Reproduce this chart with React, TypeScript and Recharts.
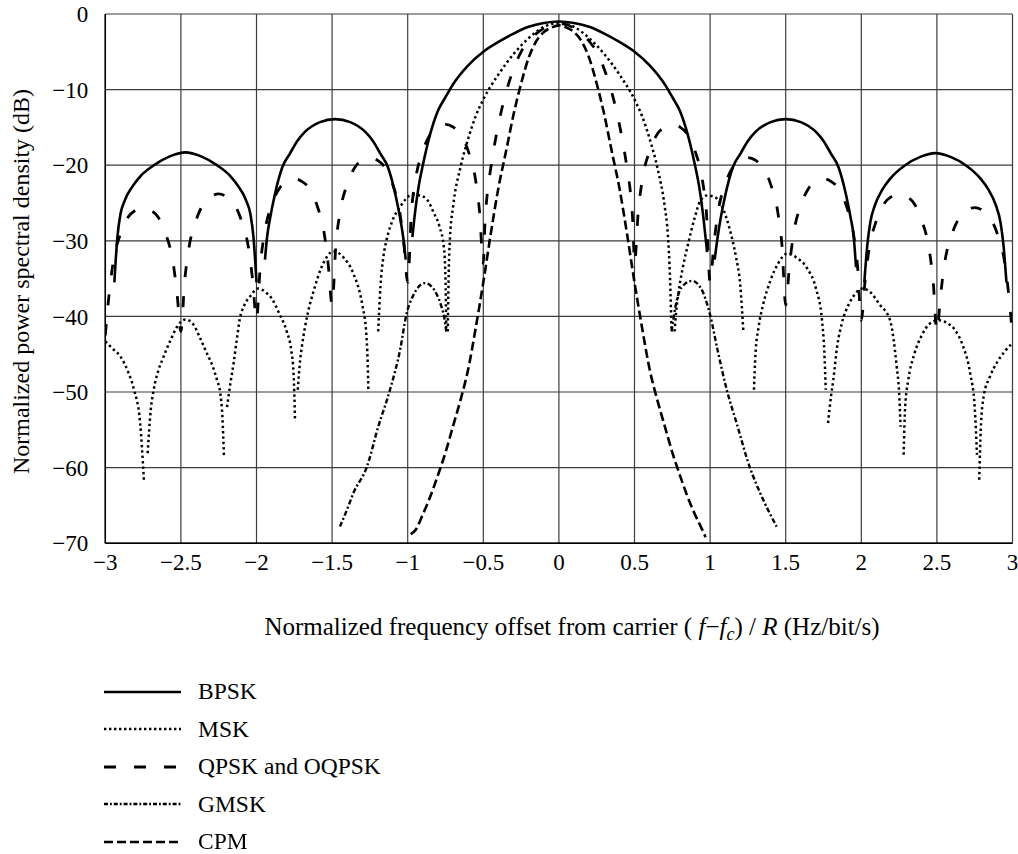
import { CartesianGrid, Label, Legend, Line, LineChart, XAxis, YAxis } from "recharts";

type Pt = [number, number | null];

const FONT = "'Liberation Serif', 'Times New Roman', Times, serif";

const xTicks = [-3, -2.5, -2, -1.5, -1, -0.5, 0, 0.5, 1, 1.5, 2, 2.5, 3];
const yTicks = [-70, -60, -50, -40, -30, -20, -10, 0];

// null = the curve is broken there
const BPSK: Pt[] = [
  [-2.94, -35.5], [-2.92, -29.5], [-2.9, -26.5], [-2.87, -24.6], [-2.82, -22.8], [-2.77, -21.5],
  [-2.67, -19.9], [-2.57, -18.8], [-2.47, -18.3], [-2.37, -18.8], [-2.27, -19.9], [-2.17, -21.5],
  [-2.12, -22.8], [-2.07, -24.6], [-2.04, -26.5], [-2.02, -29.5], [-2.0, -35.5],
  [-1.97, null],
  [-1.944, -32.5], [-1.93, -29.5], [-1.91, -27], [-1.88, -24], [-1.83, -20.3], [-1.78, -18.5],
  [-1.73, -16.8], [-1.68, -15.6], [-1.58, -14.3], [-1.48, -13.9], [-1.38, -14.3], [-1.28, -15.6],
  [-1.23, -16.8], [-1.18, -18.5], [-1.13, -20.3], [-1.08, -24], [-1.05, -27], [-1.03, -29.5], [-1.013, -32.5],
  [-0.99, null],
  [-0.969, -29.5], [-0.95, -26], [-0.925, -22.5], [-0.9, -20], [-0.85, -15.8], [-0.8, -12.8],
  [-0.75, -11.0], [-0.7, -9.3], [-0.6, -6.8], [-0.5, -5.0], [-0.4, -3.7], [-0.3, -2.6], [-0.2, -1.7],
  [-0.1, -1.2], [0, -1.0], [0.1, -1.2], [0.2, -1.7], [0.3, -2.6], [0.4, -3.7], [0.5, -5.0], [0.6, -6.8],
  [0.7, -9.3], [0.75, -11.0], [0.8, -12.8], [0.85, -15.8], [0.9, -20], [0.925, -22.5], [0.95, -26], [0.98, -31.5],
  [1.0, null],
  [1.03, -32.5], [1.05, -29.5], [1.07, -27], [1.1, -24], [1.15, -20.3], [1.2, -18.5], [1.25, -16.8],
  [1.3, -15.6], [1.4, -14.3], [1.5, -13.9], [1.6, -14.3], [1.7, -15.6], [1.75, -16.8], [1.8, -18.5],
  [1.85, -20.3], [1.9, -24], [1.93, -27], [1.95, -29.5], [1.965, -33.5],
  [1.99, null],
  [2.02, -35.5], [2.04, -30.5], [2.06, -27.5], [2.09, -25.3], [2.14, -23.2], [2.19, -21.8], [2.29, -20.0],
  [2.39, -18.9], [2.49, -18.4], [2.59, -18.9], [2.69, -20.0], [2.79, -21.8], [2.84, -23.2], [2.89, -25.3],
  [2.92, -27.5], [2.94, -30.5], [2.96, -35.5],
];

const MSK: Pt[] = [
  [-3, -43.3], [-2.95, -44.3], [-2.9, -45.3], [-2.85, -47.3], [-2.81, -49.7], [-2.77, -54], [-2.745, -61.6],
  [-2.73, null],
  [-2.72, -58.1], [-2.7, -52.5], [-2.68, -49.7], [-2.65, -47.2], [-2.62, -45.6], [-2.57, -43.2], [-2.52, -41.2],
  [-2.47, -40.4], [-2.42, -41.0], [-2.37, -43.0], [-2.33, -44.8], [-2.29, -46.6], [-2.26, -48.5], [-2.24, -50.1],
  [-2.225, -53.5], [-2.215, -58.6],
  [-2.205, null],
  [-2.195, -52], [-2.17, -48.5], [-2.15, -46], [-2.13, -43], [-2.11, -40.3], [-2.08, -38.5], [-2.04, -37.3],
  [-1.99, -36.3], [-1.94, -36.8], [-1.9, -37.6], [-1.85, -39.6], [-1.8, -42], [-1.77, -44.5], [-1.755, -47.5], [-1.745, -53.9],
  [-1.736, null],
  [-1.727, -49.7], [-1.71, -45.5], [-1.7, -44], [-1.66, -39.5], [-1.62, -36.5], [-1.57, -33.5], [-1.49, -31.4],
  [-1.42, -32.3], [-1.36, -34.3], [-1.3, -38.5], [-1.275, -42], [-1.265, -46], [-1.26, -50],
  [-1.23, null],
  [-1.195, -42], [-1.18, -36], [-1.16, -32], [-1.14, -29.9], [-1.1, -27.3], [-1.05, -25.5], [-0.97, -23.9],
  [-0.92, -24], [-0.87, -24.6], [-0.83, -26.2], [-0.79, -28.1], [-0.76, -31], [-0.75, -35], [-0.745, -42],
  [-0.74, null],
  [-0.735, -42], [-0.73, -35.5], [-0.72, -29.5], [-0.7, -25.5], [-0.65, -20.2], [-0.6, -16.5], [-0.55, -13.5],
  [-0.5, -11.3], [-0.4, -8.0], [-0.3, -5.3], [-0.2, -3.2], [-0.1, -1.7], [0, -1.2], [0.1, -1.7], [0.2, -3.2],
  [0.3, -5.3], [0.4, -8.0], [0.5, -11.3], [0.55, -13.5], [0.6, -16.5], [0.65, -20.2], [0.7, -25.5], [0.72, -29],
  [0.735, -35], [0.745, -42],
  [0.755, null],
  [0.765, -42], [0.775, -39.5], [0.79, -37], [0.82, -33.5], [0.856, -30.3], [0.9, -26.8], [0.933, -24.8],
  [0.98, -24.0], [1.03, -24.2], [1.08, -25.5], [1.13, -28.5], [1.17, -32], [1.2, -36], [1.22, -42],
  [1.25, null],
  [1.29, -49.7], [1.3, -45], [1.32, -41.5], [1.35, -38.5], [1.4, -35.2], [1.45, -33], [1.51, -31.7],
  [1.57, -32.2], [1.64, -33.6], [1.7, -36.3], [1.74, -40.5], [1.755, -44.5], [1.765, -49.7],
  [1.772, null],
  [1.78, -54.1], [1.8, -50.5], [1.815, -48.4], [1.84, -44], [1.87, -41], [1.92, -38.3], [1.96, -37],
  [2.01, -36.3], [2.06, -36.8], [2.12, -38.4], [2.19, -40.5], [2.234, -46.6], [2.25, -50], [2.26, -54.6],
  [2.27, null],
  [2.28, -58.3], [2.29, -52], [2.31, -48.5], [2.35, -45], [2.4, -42.5], [2.45, -41], [2.51, -40.5],
  [2.57, -40.9], [2.62, -41.8], [2.67, -43.8], [2.72, -47.5], [2.75, -52], [2.765, -58.3],
  [2.772, null],
  [2.78, -61.6], [2.79, -55], [2.81, -50.5], [2.85, -48], [2.9, -46], [2.95, -44.6], [3, -43.5],
];

const QPSK: Pt[] = [
  [-3, -42.5], [-2.975, -37.1], [-2.95, -33.1], [-2.9, -29.1], [-2.85, -26.9], [-2.8, -25.95], [-2.75, -25.6],
  [-2.7, -25.95], [-2.65, -26.9], [-2.6, -29.1], [-2.55, -33.1], [-2.525, -37.1], [-2.5, -42],
  [-2.475, -35.3], [-2.45, -31.3], [-2.4, -27.3], [-2.35, -25.1], [-2.3, -24.15], [-2.25, -23.8],
  [-2.2, -24.15], [-2.15, -25.1], [-2.1, -27.3], [-2.05, -31.3], [-2.025, -35.3], [-2, -40.5],
  [-1.975, -33.3], [-1.95, -29.3], [-1.9, -25.3], [-1.85, -23.1], [-1.8, -22.15], [-1.75, -21.8],
  [-1.7, -22.15], [-1.65, -23.1], [-1.6, -25.3], [-1.55, -29.3], [-1.525, -33.3], [-1.5, -38.5],
  [-1.475, -30.5], [-1.45, -26.5], [-1.4, -22.5], [-1.35, -20.3], [-1.3, -19.35], [-1.25, -19],
  [-1.2, -19.35], [-1.15, -20.3], [-1.1, -22.5], [-1.05, -26.5], [-1.025, -30.5], [-1, -35.5],
  [-0.975, -26.1], [-0.95, -22.1], [-0.9, -18.1], [-0.85, -15.9], [-0.8, -14.95], [-0.75, -14.6],
  [-0.7, -14.95], [-0.65, -15.9], [-0.6, -18.1], [-0.55, -22.1], [-0.525, -26.1], [-0.5, -33],
  [-0.49, -28], [-0.475, -24], [-0.45, -20.3], [-0.425, -17.2], [-0.4, -14.6], [-0.35, -10.4],
  [-0.3, -7.3], [-0.25, -5.0], [-0.2, -3.6], [-0.15, -2.6], [-0.1, -1.9], [-0.05, -1.4], [0, -1.3],
  [0.05, -1.4], [0.1, -1.9], [0.15, -2.6], [0.2, -3.6], [0.25, -5.0], [0.3, -7.3], [0.35, -10.4],
  [0.4, -14.6], [0.425, -17.2], [0.45, -20.3], [0.475, -24], [0.49, -28], [0.5, -33],
  [0.525, -26.1], [0.55, -22.1], [0.6, -18.1], [0.65, -15.9], [0.7, -14.95], [0.75, -14.6],
  [0.8, -14.95], [0.85, -15.9], [0.9, -18.1], [0.95, -22.1], [0.975, -26.1], [1, -35.5],
  [1.025, -30.5], [1.05, -26.5], [1.1, -22.5], [1.15, -20.3], [1.2, -19.35], [1.25, -19],
  [1.3, -19.35], [1.35, -20.3], [1.4, -22.5], [1.45, -26.5], [1.475, -30.5], [1.5, -38.5],
  [1.525, -33.3], [1.55, -29.3], [1.6, -25.3], [1.65, -23.1], [1.7, -22.15], [1.75, -21.8],
  [1.8, -22.15], [1.85, -23.1], [1.9, -25.3], [1.95, -29.3], [1.975, -33.3], [2, -40.5],
  [2.025, -35.3], [2.05, -31.3], [2.1, -27.3], [2.15, -25.1], [2.2, -24.15], [2.25, -23.8],
  [2.3, -24.15], [2.35, -25.1], [2.4, -27.3], [2.45, -31.3], [2.475, -35.3], [2.5, -42],
  [2.525, -37.1], [2.55, -33.1], [2.6, -29.1], [2.65, -26.9], [2.7, -25.95], [2.75, -25.6],
  [2.8, -25.95], [2.85, -26.9], [2.9, -29.1], [2.95, -33.1], [2.975, -37.1], [3, -42.5],
];

// only the tails show apart from the MSK main lobe
const GMSK: Pt[] = [
  [-1.448, -67.8], [-1.4, -65.5], [-1.36, -63.4], [-1.27, -59.9], [-1.195, -54.6], [-1.117, -49.7],
  [-1.05, -44.4], [-1.007, -39.6], [-0.97, -37.5], [-0.94, -36.4], [-0.885, -35.6], [-0.84, -36.1],
  [-0.81, -37], [-0.78, -38.5], [-0.76, -40], [-0.745, -42],
  [0, null],
  [0.745, -42], [0.77, -38.8], [0.81, -36.2], [0.88, -35.3], [0.94, -36.3], [1.0, -39.8], [1.05, -44.5],
  [1.11, -49.7], [1.175, -54.1], [1.26, -59.8], [1.35, -64.2], [1.44, -67.8],
];

const CPM: Pt[] = [
  [-0.98, -68.8], [-0.95, -68.3], [-0.9, -66.2], [-0.85, -63.8], [-0.8, -61], [-0.75, -58], [-0.7, -54.5],
  [-0.65, -51], [-0.6, -47], [-0.55, -41.5], [-0.5, -35.5], [-0.45, -29], [-0.4, -23], [-0.35, -18.2],
  [-0.3, -13.3], [-0.25, -9.2], [-0.2, -5.8], [-0.15, -3.6], [-0.1, -2.4], [-0.05, -1.8], [0, -1.5],
  [0.05, -1.8], [0.1, -2.4], [0.15, -3.6], [0.2, -5.8], [0.25, -9.2], [0.3, -13.3], [0.35, -18.2],
  [0.4, -23], [0.45, -29], [0.5, -35.5], [0.55, -41.5], [0.6, -47], [0.65, -51], [0.7, -54.5],
  [0.75, -58], [0.8, -61], [0.85, -63.8], [0.9, -66.2], [0.95, -68.3], [0.97, -69.2],
];

const toRows = (pts: Pt[]) => pts.map(([x, y]) => ({ x, y }));

const SERIES = [
  { name: "BPSK", data: BPSK, dash: undefined, legendDash: undefined, width: 2.6 },
  { name: "MSK", data: MSK, dash: "2.4 3", legendDash: "2.4 2.6", width: 2.5 },
  { name: "QPSK and OQPSK", data: QPSK, dash: "11 19", legendDash: "12 18", width: 2.8 },
  { name: "GMSK", data: GMSK, dash: "5 2.5 2 2.5", legendDash: "4 2 1.8 2", width: 2.4 },
  { name: "CPM", data: CPM, dash: "9 4", legendDash: "9 4", width: 2.6 },
];

const fmt = (v: number) => (v < 0 ? `\u2212${Math.abs(v)}` : `${v}`);

const tickStyle = { fontFamily: FONT, fontSize: 23, fill: "#000", style: { fontFamily: FONT } };

function XTitle() {
  return (
    <text x={572} y={635} textAnchor="middle" fontFamily={FONT} fontSize={25} fill="#000">
      {"Normalized frequency offset from carrier ( "}
      <tspan fontStyle="italic">f</tspan>
      {"\u2212"}
      <tspan fontStyle="italic">f</tspan>
      <tspan fontStyle="italic" fontSize={18} dy={5}>c</tspan>
      <tspan dy={-5}>{") / "}</tspan>
      <tspan fontStyle="italic">R</tspan>
      {" (Hz/bit/s)"}
    </text>
  );
}

function YTitle() {
  return (
    <text
      x={29}
      y={281.5}
      transform="rotate(-90, 29, 281.5)"
      textAnchor="middle"
      fontFamily={FONT}
      fontSize={24}
      fill="#000"
    >
      Normalized power spectral density (dB)
    </text>
  );
}

function LegendBox() {
  return (
    <div style={{ fontFamily: FONT, fontSize: 23.5, color: "#000" }}>
      {SERIES.map((s) => (
        <div key={s.name} style={{ display: "flex", alignItems: "center", height: 37.5 }}>
          <svg width={78} height={10} style={{ display: "block" }}>
            <line x1={0} y1={5} x2={77} y2={5} stroke="#000" strokeWidth={s.width} strokeDasharray={s.legendDash} />
          </svg>
          <span style={{ marginLeft: 16, lineHeight: "37.5px", whiteSpace: "nowrap" }}>{s.name}</span>
        </div>
      ))}
    </div>
  );
}

export default function App() {
  return (
    <div style={{ position: "fixed", left: 0, top: 0, width: 1018, height: 854, background: "#fff" }}>
      <LineChart width={1018} height={854} margin={{ top: 14, right: 5.5, left: 0, bottom: 270.8 }}>
        <CartesianGrid stroke="#3c3c3c" strokeWidth={1.2} />
        <XAxis
          type="number"
          dataKey="x"
          domain={[-3, 3]}
          ticks={xTicks}
          interval={0}
          tickFormatter={fmt}
          tick={tickStyle}
          tickLine={false}
          tickSize={0}
          tickMargin={10}
          axisLine={{ stroke: "#000", strokeWidth: 1.5 }}
          height={40}
          allowDataOverflow
        >
          <Label content={() => <XTitle />} />
        </XAxis>
        <YAxis
          type="number"
          domain={[-70, 0]}
          ticks={yTicks}
          interval={0}
          tickFormatter={fmt}
          tick={tickStyle}
          tickLine={false}
          tickSize={0}
          tickMargin={17}
          axisLine={{ stroke: "#000", strokeWidth: 1.5 }}
          width={105.3}
          allowDataOverflow
        >
          <Label content={() => <YTitle />} />
        </YAxis>
        {SERIES.map((s) => (
          <Line
            key={s.name}
            name={s.name}
            data={toRows(s.data)}
            dataKey="y"
            type="monotone"
            stroke="#000"
            strokeWidth={s.width}
            strokeDasharray={s.dash}
            dot={false}
            activeDot={false}
            connectNulls={false}
            isAnimationActive={false}
          />
        ))}
        <Legend
          layout="vertical"
          align="center"
          verticalAlign="middle"
          content={() => <LegendBox />}
          wrapperStyle={{ left: 104, top: 673, width: 420 }}
        />
      </LineChart>
    </div>
  );
}
